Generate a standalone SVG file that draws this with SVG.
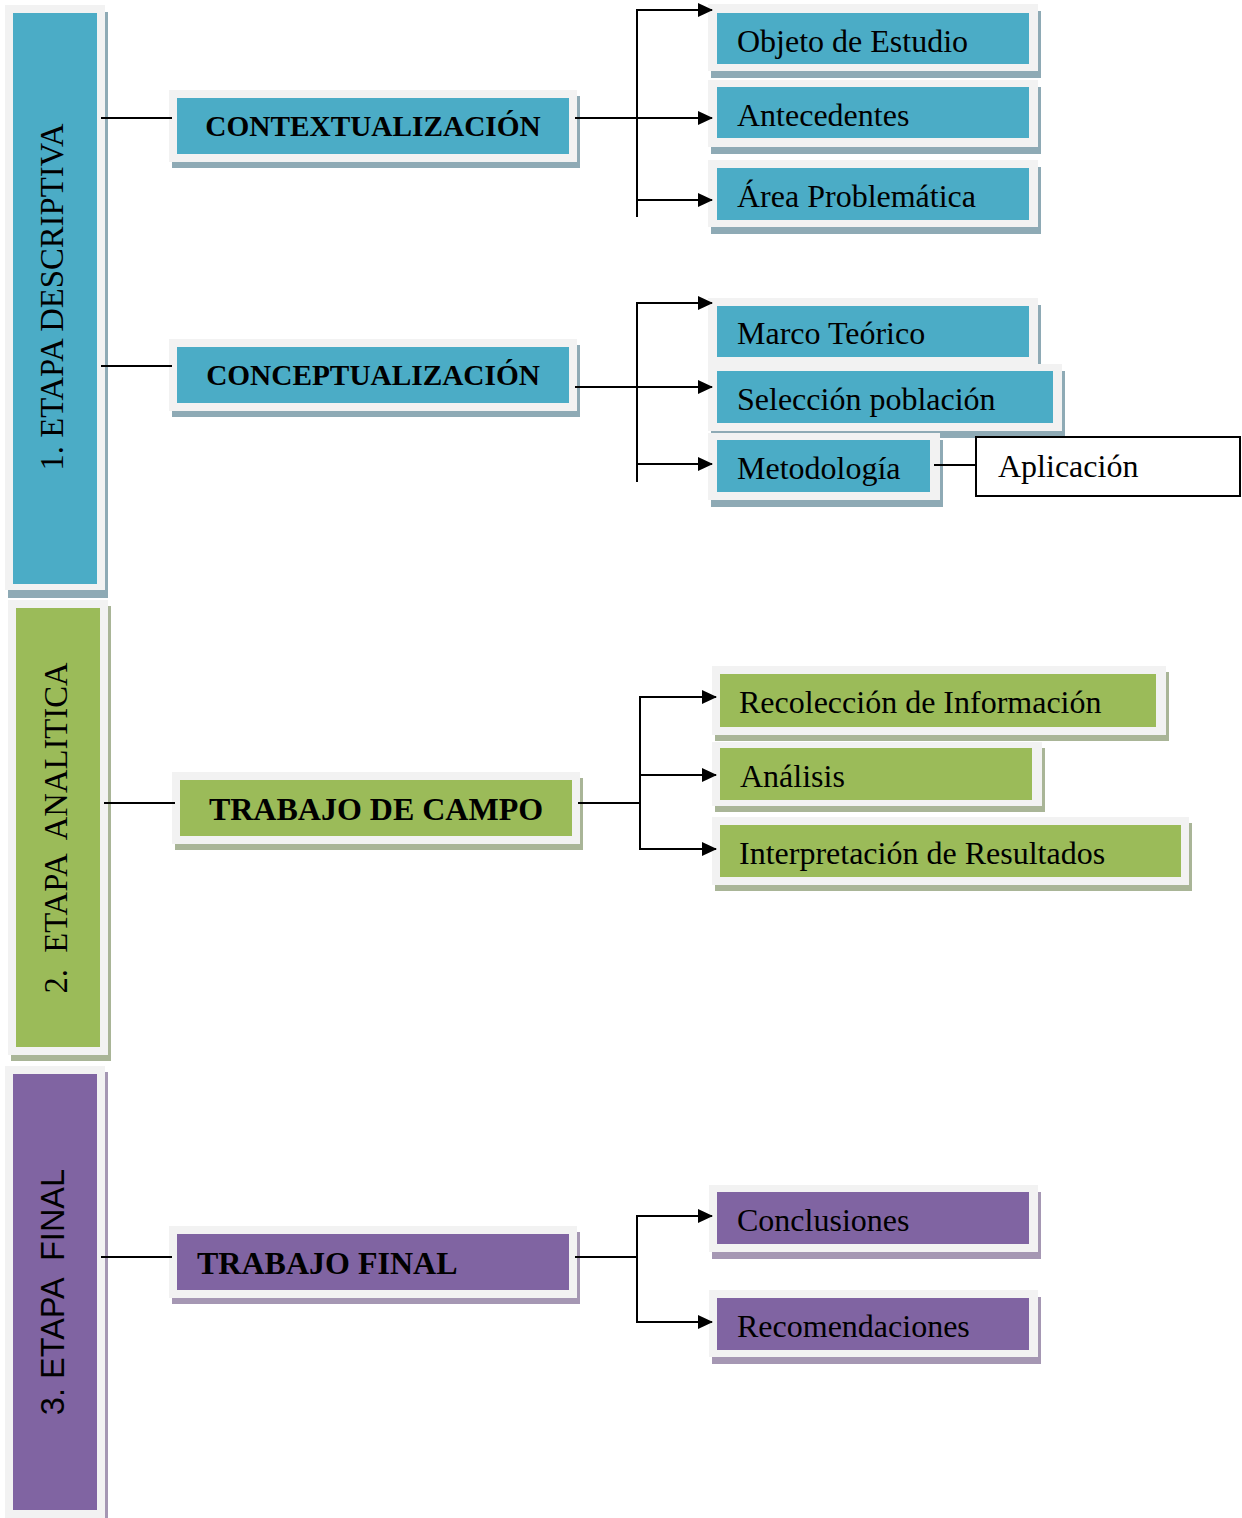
<svg xmlns="http://www.w3.org/2000/svg" width="1242" height="1518" viewBox="0 0 1242 1518">
<style>
.frame{fill:#f2f2f2}
.sb{fill:#8eaab5}.sg{fill:#a9b597}.sp{fill:#a597b3}
.b{fill:#4bacc6}.g{fill:#9bbb59}.p{fill:#8064a2}
.t{font-family:"Liberation Serif","Times New Roman",serif;font-size:32px;fill:#000}
.h{font-family:"Liberation Serif","Times New Roman",serif;font-size:29.3px;font-weight:bold;fill:#000}
.h2{font-family:"Liberation Serif","Times New Roman",serif;font-size:32px;font-weight:bold;fill:#000}
.st{font-family:"Liberation Serif","Times New Roman",serif;font-size:32.7px;fill:#000;white-space:pre}
.ss{font-family:"Liberation Sans",Arial,sans-serif;font-size:32.5px;fill:#000;white-space:pre}
.c{fill:none;stroke:#000;stroke-width:2}
.a{fill:none;stroke:#000;stroke-width:2;marker-end:url(#arr)}
</style>
<defs>
<marker id="arr" markerUnits="userSpaceOnUse" markerWidth="16" markerHeight="16" refX="14" refY="8" orient="auto" overflow="visible">
<path d="M0,1 L15,8 L0,15 z" fill="#000"/>
</marker>
</defs>

<g id="stage1">
<rect class="sb" x="8" y="12" width="100" height="586"/>
<rect class="frame" x="5" y="5" width="100" height="585"/>
<rect class="b" x="13" y="13" width="84" height="571"/>
<text class="st" transform="translate(63,297) rotate(-90)" text-anchor="middle">1. ETAPA DESCRIPTIVA</text>
</g>
<g id="stage2">
<rect class="sg" x="11" y="606" width="100" height="455"/>
<rect class="frame" x="8" y="600" width="100" height="455"/>
<rect class="g" x="16" y="608" width="84" height="439"/>
<text class="st" transform="translate(67,828) rotate(-90)" text-anchor="middle">2.  ETAPA  ANALITICA</text>
</g>
<g id="stage3">
<rect class="sp" x="8" y="1072" width="100" height="452"/>
<rect class="frame" x="5" y="1066" width="100" height="452"/>
<rect class="p" x="13" y="1074" width="84" height="436"/>
<text class="ss" transform="translate(64,1292) rotate(-90)" text-anchor="middle">3. ETAPA  FINAL</text>
</g>

<g id="contextualizacion">
<rect class="sb" x="172" y="96" width="408" height="72"/>
<rect class="frame" x="169" y="90" width="408" height="72"/>
<rect class="b" x="177" y="98" width="392" height="56"/>
<text class="h" x="373" y="136" text-anchor="middle">CONTEXTUALIZACIÓN</text>
</g>
<g id="conceptualizacion">
<rect class="sb" x="172" y="345" width="408" height="72"/>
<rect class="frame" x="169" y="339" width="408" height="72"/>
<rect class="b" x="177" y="347" width="392" height="56"/>
<text class="h" x="373" y="385" text-anchor="middle">CONCEPTUALIZACIÓN</text>
</g>
<g id="trabajo-campo">
<rect class="sg" x="175" y="778" width="408" height="72"/>
<rect class="frame" x="172" y="772" width="408" height="72"/>
<rect class="g" x="180" y="780" width="392" height="56"/>
<text class="h2" x="376" y="820" text-anchor="middle">TRABAJO DE CAMPO</text>
</g>
<g id="trabajo-final">
<rect class="sp" x="172" y="1232" width="408" height="72"/>
<rect class="frame" x="169" y="1226" width="408" height="72"/>
<rect class="p" x="177" y="1234" width="392" height="56"/>
<text class="h2" x="197" y="1274">TRABAJO FINAL</text>
</g>

<g id="objeto">
<rect class="sb" x="711" y="11" width="330" height="67"/>
<rect class="frame" x="708" y="4" width="330" height="67"/>
<rect class="b" x="717" y="13" width="312" height="51"/>
<text class="t" x="737" y="52">Objeto de Estudio</text>
</g>
<g id="antecedentes">
<rect class="sb" x="711" y="87" width="330" height="67"/>
<rect class="frame" x="708" y="80" width="330" height="67"/>
<rect class="b" x="717" y="87" width="312" height="51"/>
<text class="t" x="737" y="126">Antecedentes</text>
</g>
<g id="area">
<rect class="sb" x="711" y="167" width="330" height="67"/>
<rect class="frame" x="708" y="160" width="330" height="67"/>
<rect class="b" x="717" y="168" width="312" height="52"/>
<text class="t" x="737" y="207">Área Problemática</text>
</g>
<g id="marco">
<rect class="sb" x="711" y="305" width="330" height="67"/>
<rect class="frame" x="708" y="298" width="330" height="67"/>
<rect class="b" x="717" y="306" width="312" height="51"/>
<text class="t" x="737" y="344">Marco Teórico</text>
</g>
<g id="seleccion">
<rect class="sb" x="711" y="371" width="354" height="67"/>
<rect class="frame" x="708" y="364" width="354" height="67"/>
<rect class="b" x="717" y="371" width="336" height="52"/>
<text class="t" x="737" y="410">Selección población</text>
</g>
<g id="metodologia">
<rect class="sb" x="711" y="440" width="232" height="67"/>
<rect class="frame" x="708" y="433" width="232" height="67"/>
<rect class="b" x="717" y="440" width="213" height="52"/>
<text class="t" x="737" y="479">Metodología</text>
</g>
<g id="aplicacion">
<rect x="976" y="437" width="264" height="59" fill="#fff" stroke="#000" stroke-width="2"/>
<text class="t" x="998" y="477">Aplicación</text>
</g>

<g id="recoleccion">
<rect class="sg" x="715" y="672" width="454" height="69"/>
<rect class="frame" x="712" y="666" width="454" height="69"/>
<rect class="g" x="720" y="674" width="436" height="53"/>
<text class="t" x="739" y="713">Recolección de Información</text>
</g>
<g id="analisis">
<rect class="sg" x="715" y="748" width="330" height="64"/>
<rect class="frame" x="712" y="742" width="330" height="64"/>
<rect class="g" x="720" y="748" width="312" height="52"/>
<text class="t" x="740" y="787">Análisis</text>
</g>
<g id="interpretacion">
<rect class="sg" x="715" y="823" width="477" height="68"/>
<rect class="frame" x="712" y="817" width="477" height="68"/>
<rect class="g" x="720" y="825" width="461" height="52"/>
<text class="t" x="739" y="864">Interpretación de Resultados</text>
</g>

<g id="conclusiones">
<rect class="sp" x="712" y="1192" width="329" height="67"/>
<rect class="frame" x="709" y="1185" width="329" height="67"/>
<rect class="p" x="717" y="1192" width="312" height="52"/>
<text class="t" x="737" y="1231">Conclusiones</text>
</g>
<g id="recomendaciones">
<rect class="sp" x="712" y="1297" width="329" height="67"/>
<rect class="frame" x="709" y="1290" width="329" height="67"/>
<rect class="p" x="717" y="1298" width="312" height="52"/>
<text class="t" x="737" y="1337">Recomendaciones</text>
</g>

<g id="connectors">
<line class="c" x1="101" y1="118" x2="172" y2="118"/>
<line class="c" x1="637" y1="9" x2="637" y2="217"/>
<line class="a" x1="636" y1="10" x2="712" y2="10"/>
<line class="a" x1="575" y1="118" x2="712" y2="118"/>
<line class="a" x1="636" y1="200" x2="712" y2="200"/>

<line class="c" x1="101" y1="366" x2="172" y2="366"/>
<line class="c" x1="637" y1="302" x2="637" y2="482"/>
<line class="a" x1="636" y1="303" x2="712" y2="303"/>
<line class="a" x1="575" y1="387" x2="712" y2="387"/>
<line class="a" x1="636" y1="464" x2="712" y2="464"/>
<line class="c" x1="934" y1="465" x2="976" y2="465"/>

<line class="c" x1="104" y1="803" x2="175" y2="803"/>
<line class="c" x1="578" y1="803" x2="640" y2="803"/>
<line class="c" x1="640" y1="696" x2="640" y2="850"/>
<line class="a" x1="639" y1="697" x2="716" y2="697"/>
<line class="a" x1="640" y1="775" x2="716" y2="775"/>
<line class="a" x1="639" y1="849" x2="716" y2="849"/>

<line class="c" x1="101" y1="1257" x2="172" y2="1257"/>
<line class="c" x1="575" y1="1257" x2="637" y2="1257"/>
<line class="c" x1="637" y1="1215" x2="637" y2="1323"/>
<line class="a" x1="636" y1="1216" x2="712" y2="1216"/>
<line class="a" x1="636" y1="1322" x2="712" y2="1322"/>
</g>
</svg>
